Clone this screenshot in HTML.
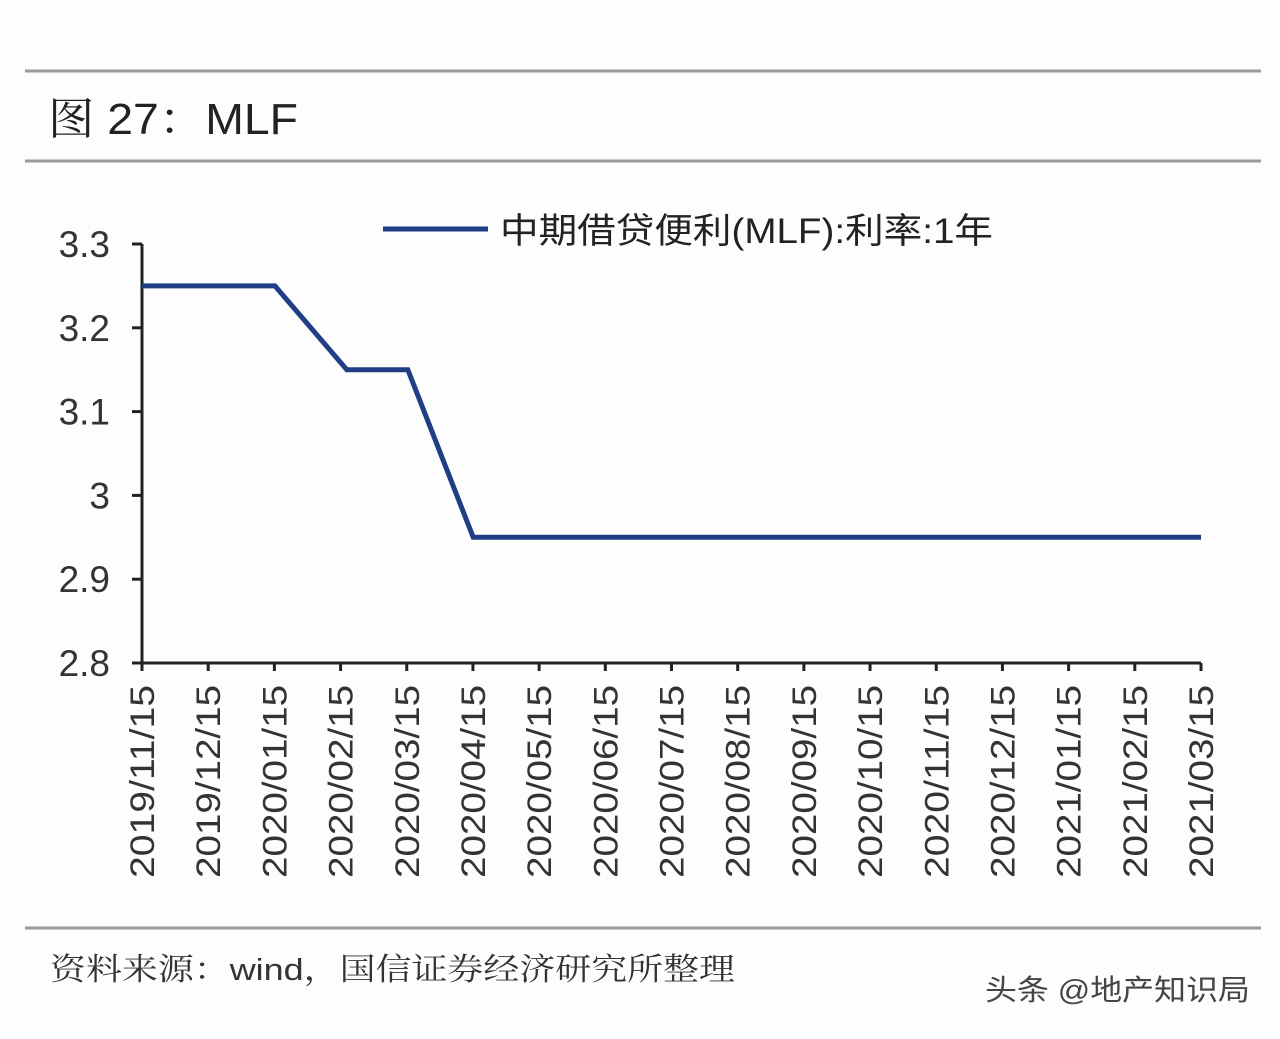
<!DOCTYPE html>
<html><head><meta charset="utf-8"><style>
body{margin:0;background:#fdfdfd;width:1280px;height:1034px;overflow:hidden;font-family:"Liberation Sans","Noto Sans CJK SC",sans-serif;}
</style></head><body>
<svg width="1280" height="1034" xmlns="http://www.w3.org/2000/svg">
<line x1="25" y1="71" x2="1261" y2="71" stroke="#999" stroke-width="3"/>
<text x="48" y="134" font-size="44" fill="#222" textLength="250" lengthAdjust="spacingAndGlyphs" font-family="Liberation Sans, Noto Serif CJK SC, serif">图 27：MLF</text>
<line x1="25" y1="161" x2="1261" y2="161" stroke="#999" stroke-width="3"/>
<g id="plot"></g>
<line x1="383" y1="229" x2="488" y2="229" stroke="#1f3e86" stroke-width="5"/>
<text x="500" y="243" font-size="35" fill="#222" textLength="493" lengthAdjust="spacingAndGlyphs">中期借贷便利(MLF):利率:1年</text>
<line x1="25" y1="928" x2="1261" y2="928" stroke="#999" stroke-width="3"/>
<text x="50" y="980" font-size="31" fill="#333" textLength="685" lengthAdjust="spacingAndGlyphs" font-family="Liberation Sans, Noto Serif CJK SC, serif">资料来源：wind，国信证券经济研究所整理</text>
<text x="985" y="1000" font-size="29" fill="#444" textLength="265" lengthAdjust="spacingAndGlyphs">头条 @地产知识局</text>
</svg>
<script>
const tickLabels=["2019/11/15","2019/12/15","2020/01/15","2020/02/15","2020/03/15","2020/04/15","2020/05/15","2020/06/15","2020/07/15","2020/08/15","2020/09/15","2020/10/15","2020/11/15","2020/12/15","2021/01/15","2021/02/15","2021/03/15"];
const yTicks=[2.8,2.9,3.0,3.1,3.2,3.3];
const yTickLabels=["2.8","2.9","3","3.1","3.2","3.3"];
const dates=["2019-11-15","2020-01-15","2020-02-17","2020-03-16","2020-04-15","2021-03-15"];
const values=[3.25,3.25,3.15,3.15,2.95,2.95];
const NS="http://www.w3.org/2000/svg";
const g=document.getElementById('plot');
const X0=142,X1=1201,Y0=663,Y1=244,ymin=2.8,ymax=3.3;
const t0=Date.parse("2019-11-15"),t1=Date.parse("2021-03-15");
const xs=d=>X0+(Date.parse(d)-t0)/(t1-t0)*(X1-X0);
const xi=i=>X0+i*(X1-X0)/(tickLabels.length-1);
const ys=v=>Y0-(v-ymin)/(ymax-ymin)*(Y0-Y1);
function el(t,a){const e=document.createElementNS(NS,t);for(const k in a)e.setAttribute(k,a[k]);g.appendChild(e);return e;}
let e=el('line',{x1:X0,y1:Y1,x2:X0,y2:Y0,stroke:'#222','stroke-width':3});


e=el('line',{x1:X0,y1:Y0,x2:X1,y2:Y0,stroke:'#222','stroke-width':3});


yTicks.forEach((v,i)=>{
 let t=el('line',{x1:X0-10,y1:ys(v),x2:X0,y2:ys(v),stroke:'#222','stroke-width':3});
 
 
 let l=el('text',{x:110,y:ys(v)+13,'font-size':37,fill:'#333','text-anchor':'end'});
 l.textContent=yTickLabels[i];
 
 
});
tickLabels.forEach((s,i)=>{
 const x=xi(i);
 let t=el('line',{x1:x,y1:Y0,x2:x,y2:Y0+8,stroke:'#222','stroke-width':3});
 
 
 let l=el('text',{x:0,y:0,'font-size':34,fill:'#333','text-anchor':'end',textLength:193,lengthAdjust:'spacingAndGlyphs',transform:`translate(${x+12},${Y0+22}) rotate(-90)`});
 l.textContent=s;
 
 
});
const p=el('polyline',{points:dates.map((d,i)=>xs(d)+','+ys(values[i])).join(' '),fill:'none',stroke:'#1f3e86','stroke-width':5,'stroke-linejoin':'miter'});


</script>
</body></html>
